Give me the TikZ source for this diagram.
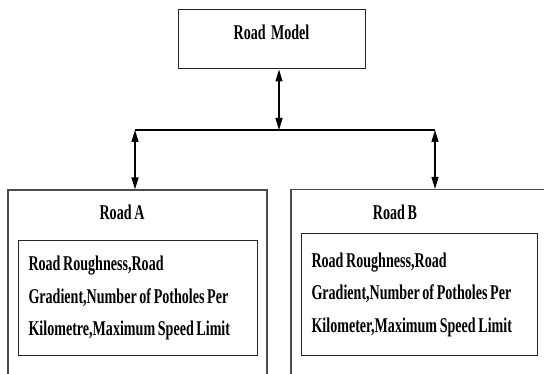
\documentclass[tikz,border=0pt]{standalone}
\usepackage{fontspec}
\setmainfont{Liberation Serif}[FakeStretch=0.67,WordSpace=0.75]
\usepackage{tikz}
\usetikzlibrary{arrows.meta,positioning}

\begin{document}
\begin{tikzpicture}
  [x=1pt,y=-1pt,
   >={Triangle[length=12pt,width=7pt]},
   box/.style={rectangle,draw=black!85,line width=1pt,inner sep=0pt},
   outer/.style={rectangle,draw=black!70,line width=1.2pt},
   props/.style={box,anchor=north west,align=flush left,inner xsep=10pt,
     font=\fontsize{21}{32.5}\selectfont\bfseries},
   title/.style={font=\fontsize{21}{25}\selectfont\bfseries}]
  \useasboundingbox (0,0) rectangle (544,374);
  \clip (0,0) rectangle (544,374);
  \node[box,minimum width=187pt,text height=30pt,text depth=29pt,
    font=\fontsize{21}{25}\selectfont\bfseries] (model) at (271.5,39.5) {Road~~Model};
  \node[outer,minimum width=259pt,minimum height=220pt] (roadA) at (137.5,300) {};
  \node[outer,minimum width=309pt,minimum height=220pt] (roadB) at (445.5,299.5) {};
  \node[title] (titleA) at (122,212) {Road A};
  \node[title] (titleB) at (395,212) {Road B};
  \node[props,text width=219pt,minimum height=115pt] (propsA) at (18,240)
    {Road Roughness,Road\\Gradient,Number of Potholes Per\\Kilometre,Maximum Speed Limit};
  \node[props,text width=216pt,minimum height=122pt] (propsB) at (301,233)
    {Road Roughness,Road\\Gradient,Number of Potholes Per\\Kilometer,Maximum Speed Limit};
  \coordinate (bus) at (279,130);
  \coordinate (busA) at (135,130);
  \coordinate (busB) at (435,130);
  \draw [line width=1.2pt] (busA) -- (busB);
  \draw [<->,line width=1.3pt] (bus |- model.south) -- (bus);
  \draw [<->,line width=1.3pt] (busA) -- (busA |- roadA.north);
  \draw [<->,line width=1.3pt] (busB) -- (busB |- roadB.north);
\end{tikzpicture}
\end{document}
